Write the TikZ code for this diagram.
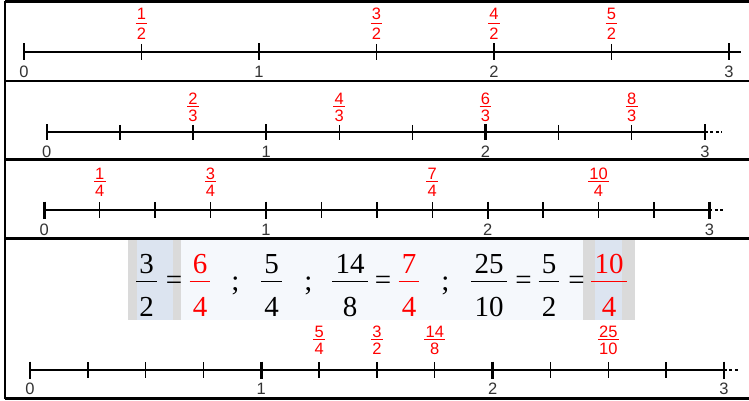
\documentclass[tikz,border=0pt]{standalone}
\usepackage{fontspec}
\setmainfont{Liberation Serif}
\newfontfamily\numfont{Liberation Sans}

\definecolor{lblgray}{HTML}{333333}
\definecolor{eqbg}{HTML}{F5F8FC}
\definecolor{hlgray}{HTML}{DADADA}
\definecolor{hlblue}{HTML}{DCE4F0}

\begin{document}
\begin{tikzpicture}[
    x=1pt, y=-1pt,
    frame/.style={line width=2.5pt}, % Panel borders
    axis/.style={line width=2.2pt}, % Number lines
    major/.style={line width=2.4pt}, % Ticks at whole numbers
    minor/.style={line width=1.4pt}, % Ticks between them
    tail/.style={line width=2pt, dash pattern=on 3pt off 2.5pt}, % Dashed end of a line
    intlbl/.style={font=\numfont\fontsize{16.5}{16.5}\selectfont, text=lblgray, inner sep=0pt, text height=11.8pt, text depth=0pt, anchor=north},
    num/.style={font=\numfont\fontsize{16.5}{16.5}\selectfont, text=red, inner sep=0pt, text height=11.8pt, text depth=0pt, anchor=south},
    den/.style={num, anchor=north},
    fbar/.style={red, line width=1.2pt},
    bignum/.style={font=\fontsize{29}{29}\selectfont, inner sep=0pt, text height=19.6pt, text depth=0pt, anchor=south},
    bigden/.style={bignum, anchor=north},
    bigsym/.style={font=\fontsize{29}{29}\selectfont, inner sep=0pt, anchor=base},
    ebar/.style={line width=1.5pt}
]
\useasboundingbox (0,0) rectangle (749,401);

% Equation background
\fill[eqbg] (128,240) rectangle (635,320);
\fill[hlgray] (128,240) rectangle (181,320);
\fill[hlblue] (137,240) rectangle (173,320);
\fill[hlgray] (583,240) rectangle (635,320);
\fill[hlblue] (595,240) rectangle (622,320);

% Panel borders
\draw[frame] (5,1.5) -- (5,398.5);
\foreach \y in {1.5,81,159.5,238.5,398.5}
    \draw[frame] (5,\y) -- (749,\y);

% --- Halves ---
\begin{scope}[shift={(24,52)}, x=235pt]
    \draw[axis] (0,0) -- (3.05,0);
    \foreach \k in {0.5,1.5,2.5}
        \draw[minor] (\k,-8) -- (\k,8);
    \foreach \k in {0,1,2,3} {
        \draw[major] (\k,-8.5) -- (\k,8.5);
        \node[intlbl] (h\k) at (\k,13.5) {\k};
    }
    \foreach \x/\n/\d [count=\i] in {0.5/1/2, 1.5/3/2, 2/4/2, 2.5/5/2} {
        \node[num] (hn\i) at (\x,-32.5) {\n};
        \node[den] (hd\i) at (\x,-24.5) {\d};
        \draw[fbar] ([xshift=-1pt,yshift=-4pt]hn\i.south west) -- ([xshift=1pt,yshift=-4pt]hn\i.south east);
    }
\end{scope}

% --- Thirds ---
\begin{scope}[shift={(46.7,132.3)}, x=219.4pt]
    \draw[axis] (0,0) -- (3,0);
    \draw[tail] (3,0) -- (3.08,0);
    \foreach \k in {1,2,4,5,7,8}
        \draw[minor] (\k/3,-7.5) -- (\k/3,7.5);
    \foreach \k in {0,1,2,3} {
        \draw[major] (\k,-8) -- (\k,8);
        \node[intlbl] (t\k) at (\k,13.5) {\k};
    }
    \foreach \x/\n/\d [count=\i] in {2/2/3, 4/4/3, 6/6/3, 8/8/3} {
        \node[num] (tn\i) at (\x/3,-27.5) {\n};
        \node[den] (td\i) at (\x/3,-23) {\d};
        \draw[fbar] ([xshift=-1pt,yshift=-2pt]tn\i.south west) -- ([xshift=1pt,yshift=-2pt]tn\i.south east);
    }
\end{scope}

% --- Quarters ---
\begin{scope}[shift={(44.3,210)}, x=221.7pt]
    \draw[axis] (0,0) -- (3,0);
    \draw[tail] (3,0) -- (3.07,0);
    \foreach \k in {1,2,3,5,6,7,9,10,11}
        \draw[minor] (\k/4,-8) -- (\k/4,8);
    \foreach \k in {0,1,2,3} {
        \draw[major] (\k,-8.5) -- (\k,8.5);
        \node[intlbl] (q\k) at (\k,13) {\k};
    }
    \foreach \x/\n/\d [count=\i] in {1/1/4, 3/3/4, 7/7/4, 10/10/4} {
        \node[num] (qn\i) at (\x/4,-30.5) {\n};
        \node[den] (qd\i) at (\x/4,-25.5) {\d};
        \draw[fbar] ([xshift=-1pt,yshift=-2pt]qn\i.south west) -- ([xshift=1pt,yshift=-2pt]qn\i.south east);
    }
\end{scope}

% --- Equivalent fractions ---
\foreach \x/\n/\d/\c [count=\i] in {146.7/3/2/black, 200/6/4/red, 271.7/5/4/black, 350/14/8/black,
        409/7/4/red, 489/25/10/black, 549/5/2/black, 609/10/4/red} {
    \node[bignum, text=\c] (en\i) at (\x,273.5) {\n};
    \node[bigden, text=\c] (ed\i) at (\x,296.2) {\d};
    \draw[ebar, \c] ([xshift=-3pt,yshift=-8.2pt]en\i.south west) -- ([xshift=3pt,yshift=-8.2pt]en\i.south east);
}
\foreach \x [count=\i] in {174,383,523.5,576.5}
    \node[bigsym] (eq\i) at (\x,289) {=};
\foreach \x [count=\i] in {235.5,308.5,445.5}
    \node[bigsym] (sc\i) at (\x,290) {;};

\begin{scope}[shift={(30,370)}, x=231.3pt]
    \draw[axis] (0,0) -- (3,0);
    \draw[tail] (3,0) -- (3.07,0);
    \foreach \k in {1,2,3,5,6,7,9,10,11}
        \draw[minor] (\k/4,-8) -- (\k/4,8);
    \foreach \k in {0,1,2,3} {
        \draw[major] (\k,-8.5) -- (\k,8.5);
        \node[intlbl] (m\k) at (\k,12.5) {\k};
    }
    \foreach \x/\n/\d [count=\i] in {1.25/5/4, 1.5/3/2, 1.75/14/8, 2.5/25/10} {
        \node[num] (mn\i) at (\x,-32.5) {\n};
        \node[den] (md\i) at (\x,-27.5) {\d};
        \draw[fbar] ([xshift=-1pt,yshift=-2pt]mn\i.south west) -- ([xshift=1pt,yshift=-2pt]mn\i.south east);
    }
\end{scope}

\end{tikzpicture}
\end{document}
